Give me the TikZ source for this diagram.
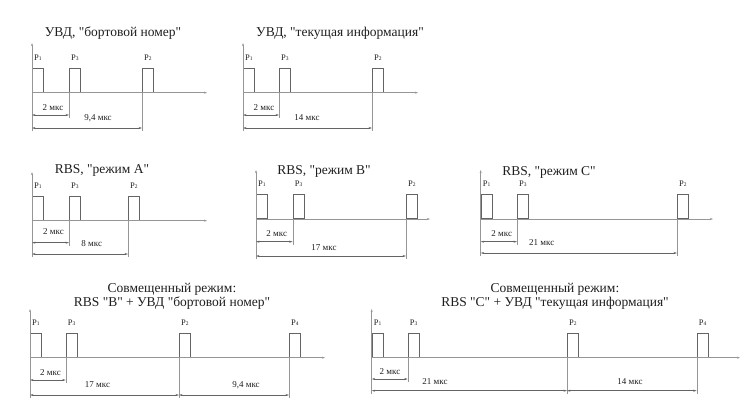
\documentclass[tikz,border=0pt]{standalone}
\usepackage{fontspec}
\setmainfont{Liberation Serif}[Ligatures=TeXOff]
\usetikzlibrary{arrows.meta,positioning}
\definecolor{lineGray}{RGB}{100,100,100}
\definecolor{axisGray}{RGB}{150,150,150}
\definecolor{textGray}{RGB}{30,30,30}
\newcommand{\pulseidx}[1]{{\fontsize{5.5}{6}\selectfont #1}}

\tikzset{
  pulse/.style={draw=lineGray, line width=0.8pt, anchor=south west,
    minimum width=11pt, minimum height=24pt, inner sep=0pt},
  plabel/.style={font=\fontsize{8.5}{9}\selectfont, text=textGray, inner sep=0pt},
  timeaxis/.style={-{Stealth[length=3pt,width=2pt]}, draw=axisGray, line width=0.6pt},
  vaxis/.style={-{Stealth[length=3pt,width=2pt]}, draw=axisGray, line width=0.5pt, shorten <=-3pt},
  extline/.style={draw=axisGray, line width=0.4pt, shorten >=-3pt},
  dimline/.style={{Stealth[length=3.5pt,width=2pt]}-{Stealth[length=3.5pt,width=2pt]}, draw=lineGray, line width=0.45pt},
  dimlabel/.style={font=\fontsize{9}{9}\selectfont, text=textGray, inner sep=0pt},
  title/.style={font=\fontsize{13.5}{14}\selectfont, text=textGray, align=center, inner sep=0pt}
}

\begin{document}
\begin{tikzpicture}[x=1pt, y=-1pt, node distance=7.5pt]
    \useasboundingbox (0,0) rectangle (750,402);
    % UVD, onboard number
    \node[title] (bntitle) at (113,33.5) {УВД, "бортовой номер"};
    \coordinate (bn0) at (32,92.7);
    \coordinate (bnend) at (207,92.7);
    \coordinate (bntop) at (32,43);
    \coordinate (bnd1) at (32,115);
    \coordinate (bnd2) at (32,128);
    \node[pulse] (bnp1) at (32,92.7) {};
    \node[pulse] (bnp3) at (69,92.7) {};
    \node[pulse] (bnp2) at (142,92.7) {};
    \node[plabel, above=of bnp1] (bnl1) {P\pulseidx{1}};
    \node[plabel, above=of bnp3] (bnl3) {P\pulseidx{3}};
    \node[plabel, above=of bnp2] (bnl2) {P\pulseidx{2}};
    \draw[timeaxis] (bn0) -- (bnend);
    \draw[vaxis] (bnd2) -- (bntop);
    \draw[extline] (bnp3.south west) -- (bnp3.south west |- bnd1);
    \draw[extline] (bnp2.south west) -- (bnp2.south west |- bnd2);
    \draw[dimline] (bnd1) -- (bnp3.south west |- bnd1);
    \draw[dimline] (bnd2) -- (bnp2.south west |- bnd2);
    \node[dimlabel] (bnt1) at (53,108) {2 мкс};
    \node[dimlabel] (bnt2) at (98,118) {9,4 мкс};

    % UVD, current information
    \node[title] (tititle) at (340,33.5) {УВД, "текущая информация"};
    \coordinate (ti0) at (243,92.7);
    \coordinate (tiend) at (418,92.7);
    \coordinate (titop) at (243,43);
    \coordinate (tid1) at (243,115);
    \coordinate (tid2) at (243,128);
    \node[pulse] (tip1) at (243,92.7) {};
    \node[pulse] (tip3) at (279,92.7) {};
    \node[pulse] (tip2) at (372,92.7) {};
    \node[plabel, above=of tip1] (til1) {P\pulseidx{1}};
    \node[plabel, above=of tip3] (til3) {P\pulseidx{3}};
    \node[plabel, above=of tip2] (til2) {P\pulseidx{2}};
    \draw[timeaxis] (ti0) -- (tiend);
    \draw[vaxis] (tid2) -- (titop);
    \draw[extline] (tip3.south west) -- (tip3.south west |- tid1);
    \draw[extline] (tip2.south west) -- (tip2.south west |- tid2);
    \draw[dimline] (tid1) -- (tip3.south west |- tid1);
    \draw[dimline] (tid2) -- (tip2.south west |- tid2);
    \node[dimlabel] (tit1) at (264,108) {2 мкс};
    \node[dimlabel] (tit2) at (307,118) {14 мкс};

    % RBS, mode A
    \node[title] (ratitle) at (102,170) {RBS, "режим A"};
    \coordinate (ra0) at (32,220.7);
    \coordinate (raend) at (207,220.7);
    \coordinate (ratop) at (32,172);
    \coordinate (rad1) at (32,242.7);
    \coordinate (rad2) at (32,254);
    \node[pulse] (rap1) at (32,220.7) {};
    \node[pulse] (rap3) at (69,220.7) {};
    \node[pulse] (rap2) at (128,220.7) {};
    \node[plabel, above=of rap1] (ral1) {P\pulseidx{1}};
    \node[plabel, above=of rap3] (ral3) {P\pulseidx{3}};
    \node[plabel, above=of rap2] (ral2) {P\pulseidx{2}};
    \draw[timeaxis] (ra0) -- (raend);
    \draw[vaxis] (rad2) -- (ratop);
    \draw[extline] (rap3.south west) -- (rap3.south west |- rad1);
    \draw[extline] (rap2.south west) -- (rap2.south west |- rad2);
    \draw[dimline] (rad1) -- (rap3.south west |- rad1);
    \draw[dimline] (rad2) -- (rap2.south west |- rad2);
    \node[dimlabel] (rat1) at (53.5,232) {2 мкс};
    \node[dimlabel] (rat2) at (91.7,244) {8 мкс};

    % RBS, mode B
    \node[title] (rbtitle) at (324,171) {RBS, "режим B"};
    \coordinate (rb0) at (256,219);
    \coordinate (rbend) at (430,219);
    \coordinate (rbtop) at (256,170);
    \coordinate (rbd1) at (256,241.7);
    \coordinate (rbd2) at (256,256);
    \node[pulse] (rbp1) at (256,219) {};
    \node[pulse] (rbp3) at (292.7,219) {};
    \node[pulse] (rbp2) at (406,219) {};
    \node[plabel, above=of rbp1] (rbl1) {P\pulseidx{1}};
    \node[plabel, above=of rbp3] (rbl3) {P\pulseidx{3}};
    \node[plabel, above=of rbp2] (rbl2) {P\pulseidx{2}};
    \draw[timeaxis] (rb0) -- (rbend);
    \draw[vaxis] (rbd2) -- (rbtop);
    \draw[extline] (rbp3.south west) -- (rbp3.south west |- rbd1);
    \draw[extline] (rbp2.south west) -- (rbp2.south west |- rbd2);
    \draw[dimline] (rbd1) -- (rbp3.south west |- rbd1);
    \draw[dimline] (rbd2) -- (rbp2.south west |- rbd2);
    \node[dimlabel] (rbt1) at (276.7,234) {2 мкс};
    \node[dimlabel] (rbt2) at (324,247.3) {17 мкс};

    % RBS, mode C
    \node[title] (rctitle) at (549,172.5) {RBS, "режим C"};
    \coordinate (rc0) at (480.7,219);
    \coordinate (rcend) at (713,219);
    \coordinate (rctop) at (480.7,170);
    \coordinate (rcd1) at (480.7,241.7);
    \coordinate (rcd2) at (480.7,253);
    \node[pulse] (rcp1) at (480.7,219) {};
    \node[pulse] (rcp3) at (517,219) {};
    \node[pulse] (rcp2) at (677,219) {};
    \node[plabel, above=of rcp1] (rcl1) {P\pulseidx{1}};
    \node[plabel, above=of rcp3] (rcl3) {P\pulseidx{3}};
    \node[plabel, above=of rcp2] (rcl2) {P\pulseidx{2}};
    \draw[timeaxis] (rc0) -- (rcend);
    \draw[vaxis] (rcd2) -- (rctop);
    \draw[extline] (rcp3.south west) -- (rcp3.south west |- rcd1);
    \draw[extline] (rcp2.south west) -- (rcp2.south west |- rcd2);
    \draw[dimline] (rcd1) -- (rcp3.south west |- rcd1);
    \draw[dimline] (rcd2) -- (rcp2.south west |- rcd2);
    \node[dimlabel] (rct1) at (501.7,234) {2 мкс};
    \node[dimlabel] (rct2) at (541.7,242.7) {21 мкс};

    % combined: RBS B + UVD onboard number
    \node[title] (cbtitle) at (172,296.7) {Совмещенный режим:\\RBS "B" + УВД "бортовой номер"};
    \coordinate (cb0) at (30,357.7);
    \coordinate (cbend) at (325,357.7);
    \coordinate (cbtop) at (30,309);
    \coordinate (cbd1) at (30,380);
    \coordinate (cbd2) at (30,395);
    \node[pulse] (cbp1) at (30,357.7) {};
    \node[pulse] (cbp3) at (65.7,357.7) {};
    \node[pulse] (cbp2) at (179,357.7) {};
    \node[pulse] (cbp4) at (289,357.7) {};
    \node[plabel, above=of cbp1] (cbl1) {P\pulseidx{1}};
    \node[plabel, above=of cbp3] (cbl3) {P\pulseidx{3}};
    \node[plabel, above=of cbp2] (cbl2) {P\pulseidx{2}};
    \node[plabel, above=of cbp4] (cbl4) {P\pulseidx{4}};
    \draw[timeaxis] (cb0) -- (cbend);
    \draw[vaxis] (cbd2) -- (cbtop);
    \draw[extline] (cbp3.south west) -- (cbp3.south west |- cbd1);
    \draw[extline] (cbp2.south west) -- (cbp2.south west |- cbd2);
    \draw[extline] (cbp4.south west) -- (cbp4.south west |- cbd2);
    \draw[dimline] (cbd1) -- (cbp3.south west |- cbd1);
    \draw[dimline] (cbd2) -- (cbp2.south west |- cbd2);
    \draw[dimline] (cbp2.south west |- cbd2) -- (cbp4.south west |- cbd2);
    \node[dimlabel] (cbt1) at (50.5,372.3) {2 мкс};
    \node[dimlabel] (cbt2) at (97.5,385) {17 мкс};
    \node[dimlabel] (cbt3) at (246,385) {9,4 мкс};

    % combined: RBS C + UVD current information
    \node[title] (cctitle) at (555,296.7) {Совмещенный режим:\\RBS "C" + УВД "текущая информация"};
    \coordinate (cc0) at (371.7,357.7);
    \coordinate (ccend) at (740,357.7);
    \coordinate (cctop) at (371.7,309);
    \coordinate (ccd1) at (371.7,379);
    \coordinate (ccd2) at (371.7,390.7);
    \node[pulse] (ccp1) at (371.7,357.7) {};
    \node[pulse] (ccp3) at (407.7,357.7) {};
    \node[pulse] (ccp2) at (567,357.7) {};
    \node[pulse] (ccp4) at (696.7,357.7) {};
    \node[plabel, above=of ccp1] (ccl1) {P\pulseidx{1}};
    \node[plabel, above=of ccp3] (ccl3) {P\pulseidx{3}};
    \node[plabel, above=of ccp2] (ccl2) {P\pulseidx{2}};
    \node[plabel, above=of ccp4] (ccl4) {P\pulseidx{4}};
    \draw[timeaxis] (cc0) -- (ccend);
    \draw[vaxis] (ccd2) -- (cctop);
    \draw[extline] (ccp3.south west) -- (ccp3.south west |- ccd1);
    \draw[extline] (ccp2.south west) -- (ccp2.south west |- ccd2);
    \draw[extline] (ccp4.south west) -- (ccp4.south west |- ccd2);
    \draw[dimline] (ccd1) -- (ccp3.south west |- ccd1);
    \draw[dimline] (ccd2) -- (ccp2.south west |- ccd2);
    \draw[dimline] (ccp2.south west |- ccd2) -- (ccp4.south west |- ccd2);
    \node[dimlabel] (cct1) at (390,372) {2 мкс};
    \node[dimlabel] (cct2) at (435,381.7) {21 мкс};
    \node[dimlabel] (cct3) at (630,381.7) {14 мкс};
\end{tikzpicture}
\end{document}
